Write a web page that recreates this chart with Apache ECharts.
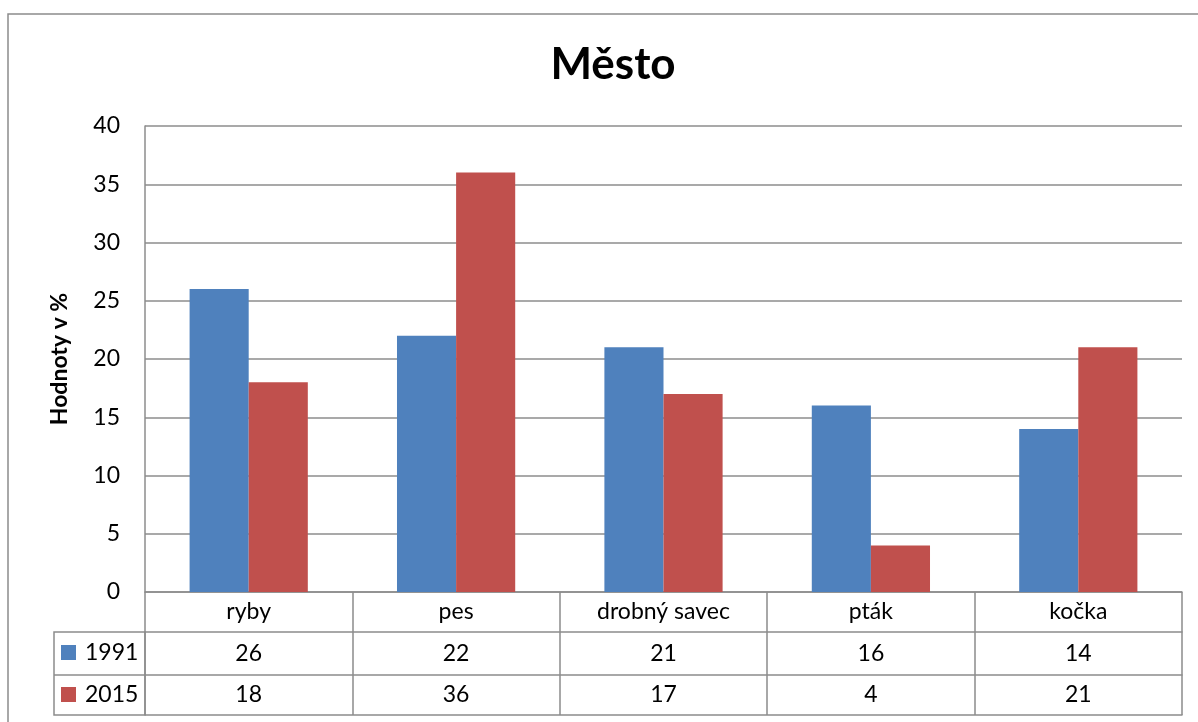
<!DOCTYPE html>
<html><head><meta charset="utf-8">
<script src="https://cdn.jsdelivr.net/npm/echarts@6/dist/echarts.min.js"></script>
<style>html,body{margin:0;padding:0;background:#fff}#c{width:1198px;height:722px}</style>
</head><body><div id="c"></div>
<script>
const categories = ['ryby', 'pes', 'drobný savec', 'pták', 'kočka'];
const seriesNames = ['1991', '2015'];
const values1991 = [26, 22, 21, 16, 14];
const values2015 = [18, 36, 17, 4, 21];
const titleText = 'Město';
const yAxisName = 'Hodnoty v %';

const FONT = 'Lato';
const GRID_COLOR = '#8c8c8c';
const chart = echarts.init(document.getElementById('c'), null, {renderer: 'canvas'});
const tableAxis = (offset, tickLen, margin, formatter, showTicks, showLabels) => ({
  type: 'category', data: categories, position: 'bottom', offset: offset,
  gridIndex: 0,
  axisLine: {show: true, lineStyle: {color: GRID_COLOR, width: 1.5}},
  axisTick: {show: showTicks, length: tickLen, lineStyle: {color: GRID_COLOR, width: 1.5}},
  axisLabel: {show: showLabels, margin: margin, verticalAlign: 'middle', fontFamily: FONT, fontSize: 23, color: '#000', formatter: formatter, interval: 0},
  splitLine: {show: false}
});
chart.setOption({
  animation: false,
  backgroundColor: '#fff',
  title: {text: titleText, left: 608, textAlign: 'center', top: 38,
    textStyle: {fontFamily: FONT, fontWeight: 'bold', fontSize: 44, color: '#000'}},
  legend: {orient: 'vertical', left: 61, top: 641, padding: 0, itemGap: 19, itemWidth: 15, itemHeight: 15,
    icon: 'rect', data: seriesNames, selectedMode: false,
    textStyle: {fontFamily: FONT, fontSize: 23, color: '#000', lineHeight: 23, padding: [0, 0, 0, 4]}},
  grid: {left: 145, right: 16, top: 126, bottom: 130, containLabel: false},
  xAxis: [
    tableAxis(0, 40, 20, (v) => v, true, true),
    tableAxis(40, 43, 21.5, (v, i) => String(values1991[i]), true, true),
    tableAxis(83, 40, 20, (v, i) => String(values2015[i]), true, true),
    tableAxis(123, 0, 0, (v) => '', false, false)
  ],
  yAxis: {
    type: 'value', min: 0, max: 40, interval: 5,
    name: yAxisName, nameLocation: 'middle', nameGap: 74, nameRotate: 90,
    nameTextStyle: {fontFamily: FONT, fontWeight: 'bold', fontSize: 23, color: '#000'},
    axisLine: {show: true, lineStyle: {color: GRID_COLOR, width: 1.5}},
    axisTick: {show: false},
    axisLabel: {margin: 25, fontFamily: FONT, fontSize: 23, color: '#000'},
    splitLine: {show: true, lineStyle: {color: GRID_COLOR, width: 1.5}}
  },
  series: [
    {name: seriesNames[0], type: 'bar', data: values1991, barGap: '0%', barCategoryGap: '43%',
      itemStyle: {color: '#4F81BD'}},
    {name: seriesNames[1], type: 'bar', data: values2015, barGap: '0%', barCategoryGap: '43%',
      itemStyle: {color: '#C0504D'}}
  ],
  graphic: [
    {type: 'rect', shape: {x: 8, y: 14, width: 1250, height: 760}, silent: true, z: -10,
      style: {fill: null, stroke: GRID_COLOR, lineWidth: 1.5}},
    {type: 'rect', shape: {x: 54, y: 632, width: 91, height: 83}, silent: true,
      style: {fill: null, stroke: GRID_COLOR, lineWidth: 1.5}},
    {type: 'line', shape: {x1: 54, y1: 675, x2: 145, y2: 675}, silent: true,
      style: {stroke: GRID_COLOR, lineWidth: 1.5}}
  ]
});
</script></body></html>
